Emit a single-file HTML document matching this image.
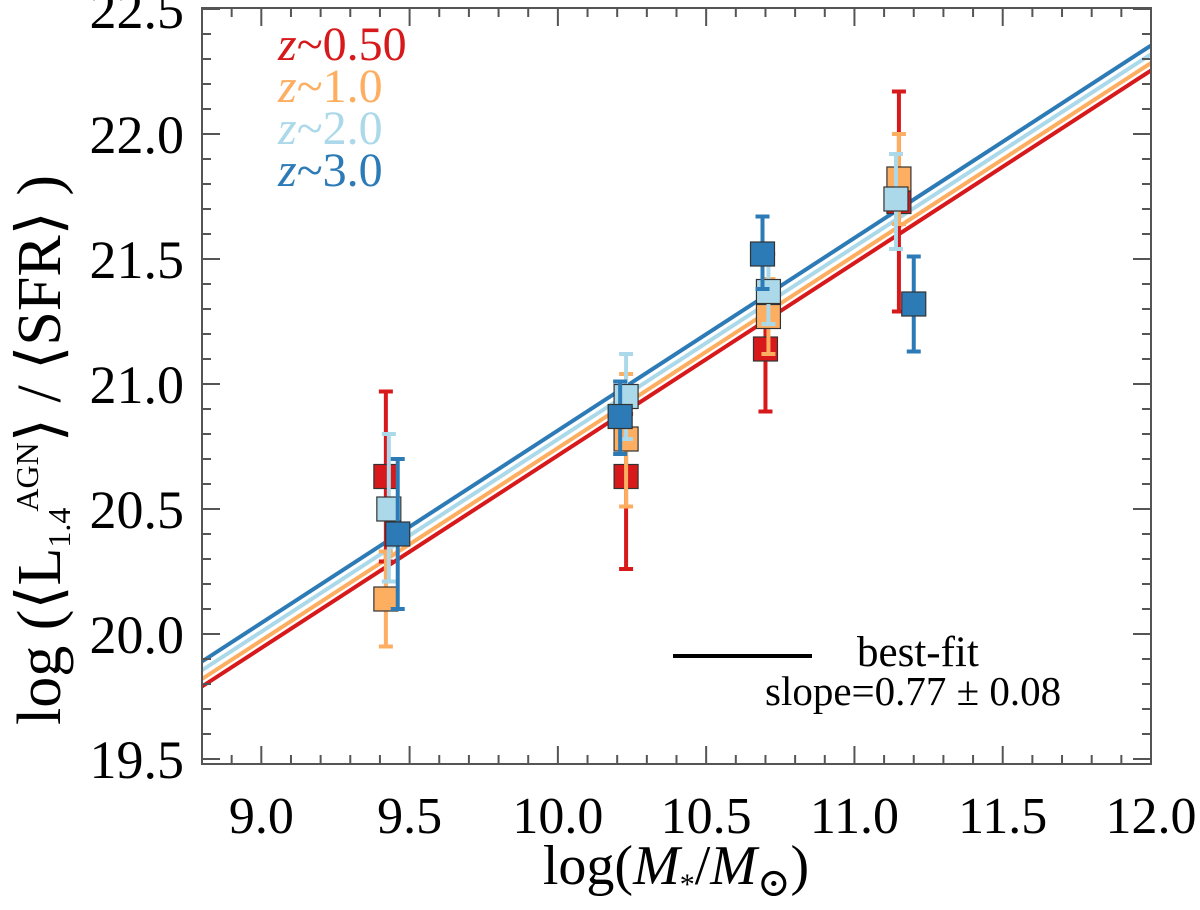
<!DOCTYPE html>
<html><head><meta charset="utf-8">
<style>
html,body{margin:0;padding:0;background:#fff;}
svg{display:block;font-family:"Liberation Serif","DejaVu Serif",serif;}
</style></head>
<body>
<svg id="chart" width="1200" height="910" viewBox="0 0 1200 910" xmlns="http://www.w3.org/2000/svg">
<g id="lines"></g>
<g id="points"></g>
<g id="axes"></g>
<g font-size="48" font-family="Liberation Serif, serif">
<text x="278" y="60" fill="#d7191c"><tspan font-style="italic">z</tspan>~0.50</text>
<text x="278" y="102" fill="#fdae61"><tspan font-style="italic">z</tspan>~1.0</text>
<text x="278" y="144" fill="#abd9e9"><tspan font-style="italic">z</tspan>~2.0</text>
<text x="278" y="186" fill="#2c7bb6"><tspan font-style="italic">z</tspan>~3.0</text>
</g>
<g>
<line x1="673" y1="656" x2="812" y2="656" stroke="#000" stroke-width="4"/>
<text x="857" y="666" font-size="43">best-fit</text>
<text x="765" y="705" font-size="41">slope=0.77 ± 0.08</text>
</g>
<text x="676" y="884" font-size="56" text-anchor="middle">log(<tspan font-style="italic">M</tspan><tspan font-size="30" dy="10">*</tspan><tspan dy="-10">/</tspan><tspan font-style="italic">M</tspan><tspan font-size="40" dy="12">⊙</tspan><tspan dy="-12">)</tspan></text>
<text transform="translate(60,450) rotate(-90)" font-size="62" text-anchor="middle">log (⟨L<tspan font-size="32" dy="10">1.4</tspan><tspan font-size="32" dx="-4" dy="-32">AGN</tspan><tspan dy="22">⟩ / ⟨SFR⟩ )</tspan></text>
</svg>
<script>
// data
const groupNames = ["z~0.50","z~1.0","z~2.0","z~3.0"];
const colors = ["#d7191c","#fdae61","#abd9e9","#2c7bb6"];
const massX = [[9.42,10.23,10.70,11.15],[9.42,10.23,10.71,11.15],[9.43,10.23,10.71,11.14],[9.46,10.21,10.69,11.20]];
const ratioY = [[20.63,20.63,21.14,21.73],[20.14,20.78,21.27,21.82],[20.50,20.95,21.37,21.74],[20.40,20.87,21.52,21.32]];
const errLo = [[0.34,0.37,0.25,0.44],[0.19,0.27,0.15,0.18],[0.29,0.17,0.13,0.20],[0.30,0.15,0.14,0.19]];
const errHi = [[0.34,0.25,0.25,0.44],[0.19,0.26,0.15,0.18],[0.30,0.17,0.15,0.18],[0.30,0.14,0.15,0.19]];
const fitSlope = [0.77,0.77,0.77,0.77];
const fitIntercept8p8 = [19.79,19.82,19.855,19.89];
const xTicks = [9.0,9.5,10.0,10.5,11.0,11.5,12.0];
const xTickLabels = ["9.0","9.5","10.0","10.5","11.0","11.5","12.0"];
const yTicks = [19.5,20.0,20.5,21.0,21.5,22.0,22.5];
const yTickLabels = ["19.5","20.0","20.5","21.0","21.5","22.0","22.5"];

const L=202,R=1151,T=8,B=764;
const X0=8.8,X1=12.0,Y0=19.48,Y1=22.504;
const sx=v=>L+(v-X0)/(X1-X0)*(R-L);
const sy=v=>B-(v-Y0)/(Y1-Y0)*(B-T);
const NS="http://www.w3.org/2000/svg";
function mk(tag,attrs,parent){const e=document.createElementNS(NS,tag);for(const k in attrs)e.setAttribute(k,attrs[k]);parent.appendChild(e);return e;}

const lines=document.getElementById('lines');
for(let i=0;i<4;i++){
  const y0=fitIntercept8p8[i], y1=y0+fitSlope[i]*(X1-X0);
  const l=mk('line',{x1:sx(X0),y1:sy(y0),x2:sx(X1),y2:sy(y1),stroke:colors[i],'stroke-width':4},lines);
  
  
}
const pts=document.getElementById('points');
for(let i=0;i<4;i++){
  for(let j=0;j<massX[i].length;j++){
    const g=mk('g',{},pts);
    
    
    const x=sx(massX[i][j]),y=sy(ratioY[i][j]);
    const yt=sy(ratioY[i][j]+errHi[i][j]), yb=sy(ratioY[i][j]-errLo[i][j]);
    const eb=mk('path',{d:`M${x},${yt}V${yb}M${x-7},${yt}H${x+7}M${x-7},${yb}H${x+7}`,stroke:colors[i],'stroke-width':4,fill:'none'},g);
    
    
    const r=mk('rect',{x:x-12,y:y-12,width:24,height:24,fill:colors[i],stroke:'#333','stroke-width':1.2},g);
    
    
  }
}
const ax=document.getElementById('axes');
const frame=mk('rect',{x:L,y:T,width:R-L,height:B-T,fill:'none',stroke:'#555','stroke-width':2},ax);


let d='';
for(let k=88;k<=120;k++){const v=k/10,x=sx(v),maj=(k%5===0),len=maj?18:9;d+=`M${x},${B}v${-len}M${x},${T}v${len}`;}
for(let k=195;k<=225;k++){const v=k/10,y=sy(v),maj=(k%5===0),len=maj?18:9;d+=`M${L},${y}h${len}M${R},${y}h${-len}`;}
const tk=mk('path',{d:d,stroke:'#555','stroke-width':2,fill:'none'},ax);


xTicks.forEach((v,i)=>{const t=mk('text',{x:sx(v),y:833,'font-size':52,'text-anchor':'middle'},ax);t.textContent=xTickLabels[i];

});
yTicks.forEach((v,i)=>{const t=mk('text',{x:184,y:sy(v)+19,'font-size':54,'text-anchor':'end'},ax);t.textContent=yTickLabels[i];

});
</script>
</body></html>
